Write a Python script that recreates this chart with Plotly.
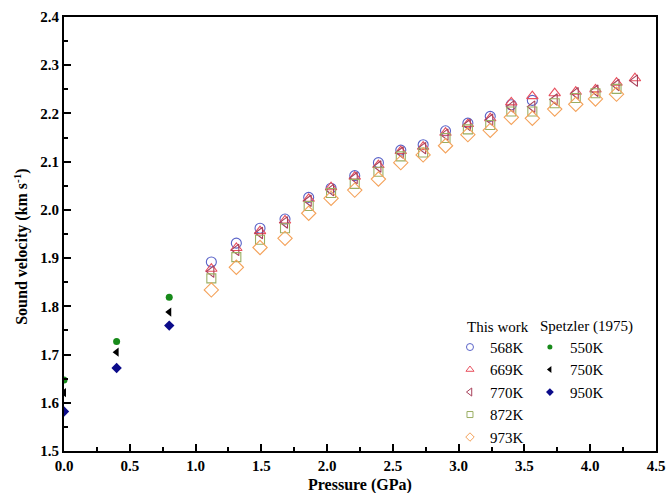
import plotly.graph_objects as go

# Pressure columns (GPa) for the measurements of this work
pressure = [1.12, 1.31, 1.49, 1.68, 1.86, 2.03, 2.21, 2.39, 2.56, 2.73,
            2.90, 3.07, 3.24, 3.40, 3.56, 3.73, 3.89, 4.04, 4.20, 4.34]

v568 = [1.892, 1.931, 1.962, 1.981, 2.026, 2.045, 2.071, 2.098, 2.124, 2.135,
        2.164, 2.180, 2.194, 2.218, 2.227]
v669 = [1.878, 1.921, 1.956, 1.978, 2.023, 2.047, 2.069, 2.093, 2.122, 2.131,
        2.160, 2.178, 2.190, 2.223, 2.236, 2.242, 2.245, 2.250, 2.264, 2.273]
v770 = [1.872, 1.917, 1.952, 1.974, 2.019, 2.041, 2.066, 2.090, 2.119, 2.128,
        2.156, 2.176, 2.187, 2.214, 2.214, 2.229, 2.242, 2.247, 2.259, 2.268]
v872 = [1.858, 1.902, 1.938, 1.962, 2.008, 2.035, 2.054, 2.079, 2.111, 2.119,
        2.149, 2.167, 2.176, 2.204, 2.204, 2.221, 2.232, 2.242, 2.251]
v973 = [1.834, 1.881, 1.922, 1.941, 1.993, 2.024, 2.041, 2.064, 2.098, 2.114,
        2.133, 2.156, 2.165, 2.192, 2.190, 2.209, 2.219, 2.230, 2.240]

# Spetzler (1975)
p_sp = [0.0, 0.4, 0.8]
v550 = [1.647, 1.727, 1.819]
v750 = [1.621, 1.705, 1.788]
v950 = [1.582, 1.672, 1.760]

serif = "Liberation Serif"

fig = go.Figure()

# (name, values, symbol, colour, size on plot, size in legend)
open_series = [
    ("568K", v568, "circle-open", "#5a63c8", 10, 7),
    ("669K", v669, "triangle-up-open", "#e8505e", 10, 7),
    ("770K", v770, "triangle-left-open", "#a8405a", 10, 7),
    ("872K", v872, "square-open", "#9aae62", 9, 6),
    ("973K", v973, "diamond-open", "#f4a25a", 11, 6.5),
]
for name, vals, sym, col, size, lsize in open_series:
    fig.add_trace(go.Scatter(
        x=pressure[:len(vals)], y=vals, mode="markers", name=name, showlegend=False,
        marker=dict(symbol=sym, color=col, size=size, line=dict(width=1.1, color=col)),
    ))
    # smaller key marker for the legend
    fig.add_trace(go.Scatter(
        x=[None], y=[None], mode="markers", name=name, legend="legend",
        marker=dict(symbol=sym, color=col, size=lsize, line=dict(width=1, color=col)),
    ))

filled_series = [
    ("550K", v550, "circle", "#178a1a", 7, 5),
    ("750K", v750, "triangle-left", "#000000", 8, 6),
    ("950K", v950, "diamond", "#0b0b8a", 8, 6),
]
for name, vals, sym, col, size, lsize in filled_series:
    fig.add_trace(go.Scatter(
        x=p_sp, y=vals, mode="markers", name=name, showlegend=False,
        marker=dict(symbol=sym, color=col, size=size),
    ))
    fig.add_trace(go.Scatter(
        x=[None], y=[None], mode="markers", name=name, legend="legend2",
        marker=dict(symbol=sym, color=col, size=lsize),
    ))

axis_common = dict(
    showline=True, linecolor="black", linewidth=2, mirror=True,
    ticks="inside", ticklen=7, tickwidth=1.5, tickcolor="black",
    showgrid=False, zeroline=False, automargin=False,
    tickfont=dict(family=serif, size=15, color="black", weight="bold"),
    minor=dict(ticks="inside", ticklen=4, tickwidth=1.5, tickcolor="black", showgrid=False),
)

fig.update_xaxes(range=[0, 4.5], dtick=0.5, tick0=0, tickformat=".1f", **axis_common)
fig.update_xaxes(minor_dtick=0.25)
fig.update_yaxes(range=[1.5, 2.4], dtick=0.1, tick0=1.5, tickformat=".1f", **axis_common)
fig.update_yaxes(minor_dtick=0.05)

title_font = dict(family=serif, size=16, color="black")
legend_font = dict(family=serif, size=15, color="black")
legend_common = dict(
    font=legend_font, yanchor="top", xanchor="left",
    bgcolor="rgba(0,0,0,0)", tracegroupgap=0, itemwidth=30,
)
fig.update_layout(
    width=667, height=493,
    margin=dict(l=64, r=11, t=17, b=42),
    plot_bgcolor="white", paper_bgcolor="white",
    legend=dict(x=0.652, y=0.277, **legend_common),
    legend2=dict(x=0.787, y=0.277, **legend_common),
    annotations=[
        dict(text="<b>Pressure (GPa)</b>", x=0.5, y=-0.079,
             xref="paper", yref="paper", xanchor="center", yanchor="middle",
             showarrow=False, font=title_font),
        dict(text="<b>Sound velocity (km s<sup>-1</sup>)</b>", x=-0.073, y=0.47,
             xref="paper", yref="paper", xanchor="center", yanchor="middle",
             textangle=-90, showarrow=False, font=title_font),
        dict(text="This work", x=0.677, y=0.286, xref="paper", yref="paper",
             xanchor="left", yanchor="middle", showarrow=False, font=legend_font),
        dict(text="Spetzler (1975)", x=0.80, y=0.286, xref="paper", yref="paper",
             xanchor="left", yanchor="middle", showarrow=False, font=legend_font),
    ],
)

fig.write_html("out.html")
